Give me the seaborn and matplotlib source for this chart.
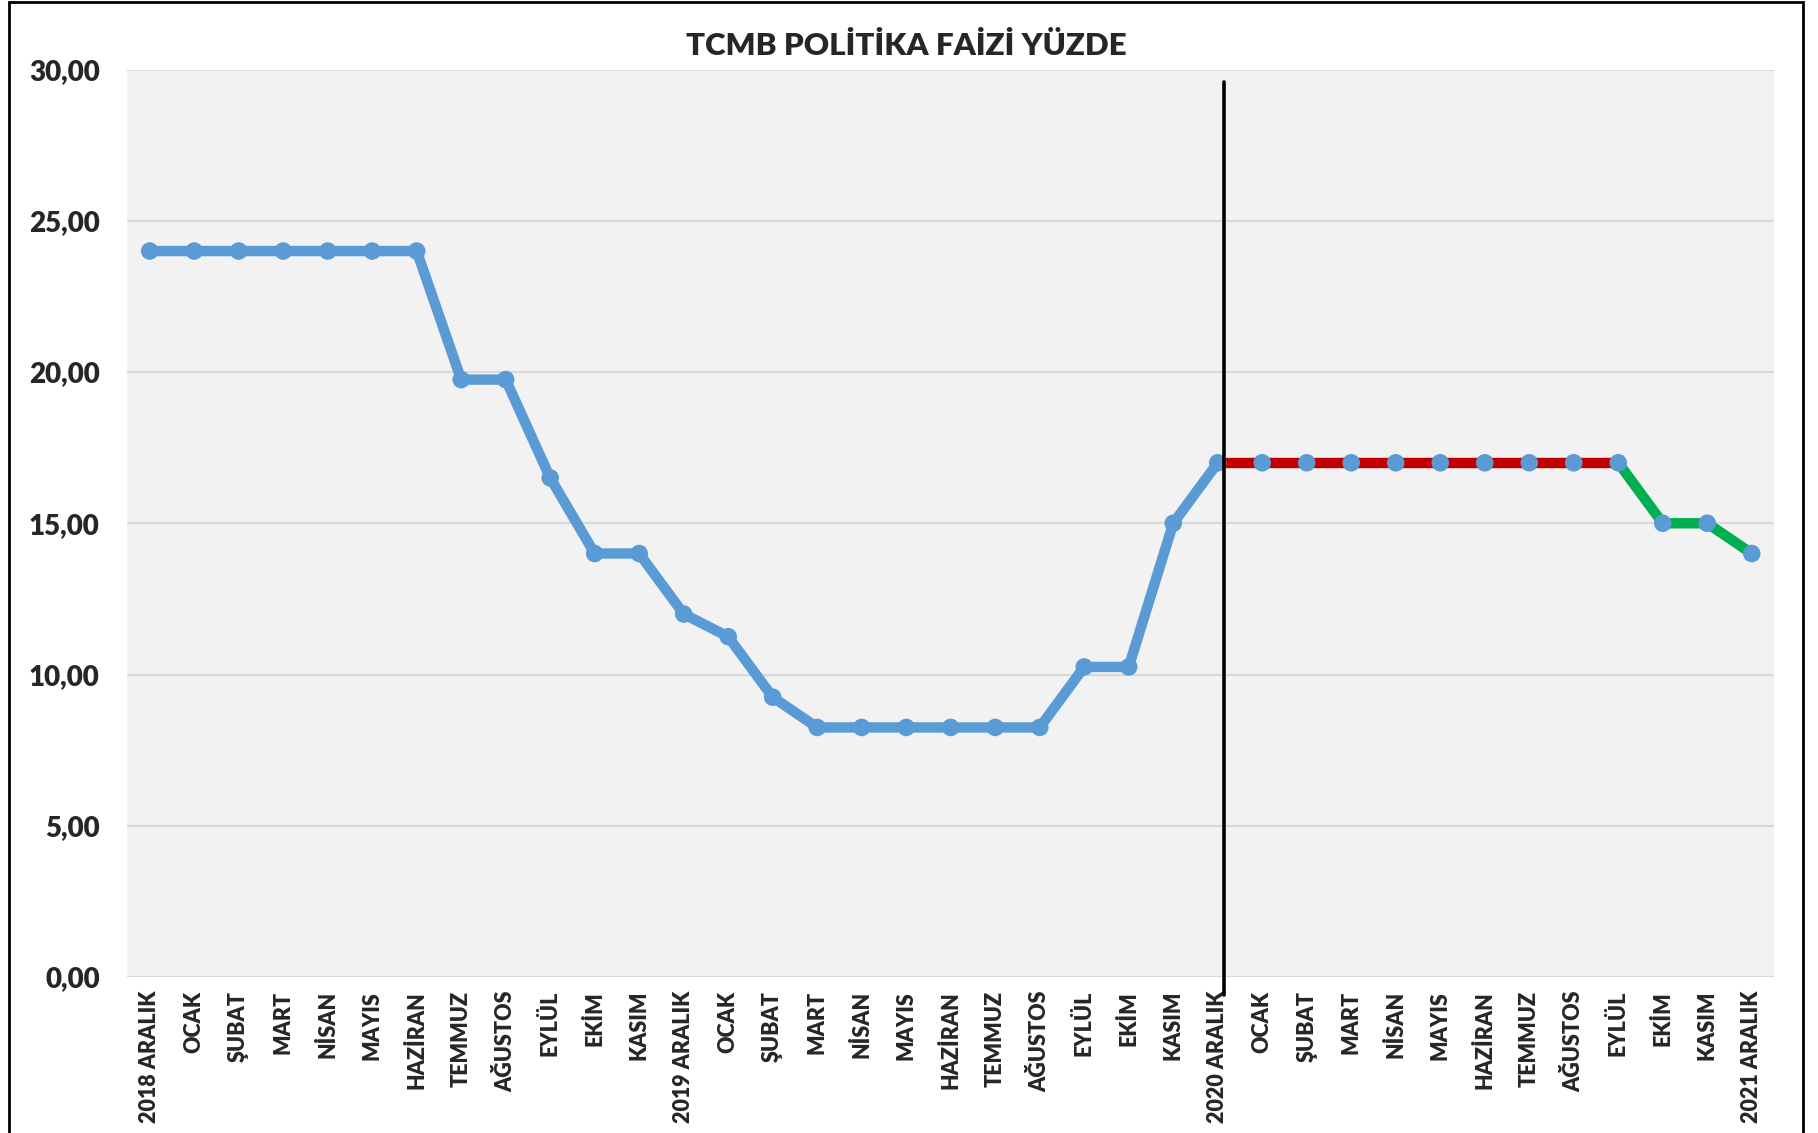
import matplotlib
matplotlib.use("Agg")
import matplotlib.pyplot as plt
import seaborn as sns
import pandas as pd
from matplotlib.patches import Rectangle
from matplotlib.ticker import FuncFormatter

# aylar (x ekseni) ve TCMB politika faizi (%)
aylar = ["2018 ARALIK", "OCAK", "ŞUBAT", "MART", "NİSAN", "MAYIS", "HAZİRAN",
         "TEMMUZ", "AĞUSTOS", "EYLÜL", "EKİM", "KASIM",
         "2019 ARALIK", "OCAK", "ŞUBAT", "MART", "NİSAN", "MAYIS", "HAZİRAN",
         "TEMMUZ", "AĞUSTOS", "EYLÜL", "EKİM", "KASIM",
         "2020 ARALIK", "OCAK", "ŞUBAT", "MART", "NİSAN", "MAYIS", "HAZİRAN",
         "TEMMUZ", "AĞUSTOS", "EYLÜL", "EKİM", "KASIM",
         "2021 ARALIK"]
faiz = [24, 24, 24, 24, 24, 24, 24, 19.75, 19.75, 16.5, 14, 14,
        12, 11.25, 9.25, 8.25, 8.25, 8.25, 8.25, 8.25, 8.25, 10.25, 10.25, 15,
        17, 17, 17, 17, 17, 17, 17, 17, 17, 17, 15, 15, 14]

# donem sinirlari: mavi -> kirmizi (2020 ARALIK), kirmizi -> yesil (EYLUL)
kirmizi_bas = 24
yesil_bas = 33

df = pd.DataFrame({"idx": range(len(faiz)), "faiz": faiz})

sns.set_style("white")
plt.rcParams["font.family"] = ["Lato", "DejaVu Sans"]

MAVI = "#5B9BD5"
KIRMIZI = "#C00000"
YESIL = "#00B050"
AGIRLIK = "heavy"

fig = plt.figure(figsize=(18.18, 11.33), dpi=100)
ax = fig.add_axes([0.0701, 0.1377, 0.9057, 0.8009])
ax.set_facecolor("#F2F2F2")

lw = 7.5
sns.lineplot(data=df.iloc[:kirmizi_bas + 1], x="idx", y="faiz", color=MAVI,
             linewidth=lw, ax=ax, zorder=3, solid_capstyle="round")
sns.lineplot(data=df.iloc[kirmizi_bas:yesil_bas + 1], x="idx", y="faiz",
             color=KIRMIZI, linewidth=lw, ax=ax, zorder=3)
sns.lineplot(data=df.iloc[yesil_bas:], x="idx", y="faiz", color=YESIL,
             linewidth=lw, ax=ax, zorder=3, solid_capstyle="round")
sns.scatterplot(data=df, x="idx", y="faiz", color=MAVI, s=160,
                edgecolor="none", ax=ax, zorder=4)

# 2020 ARALIK ayraci
ax.plot([kirmizi_bas + 0.15, kirmizi_bas + 0.15], [29.6, -0.6], color="black",
        linewidth=2.6, clip_on=False, zorder=5)

ax.set_xlim(-0.5, len(faiz) - 0.5)
ax.set_ylim(0, 30)
ax.set_yticks(range(0, 31, 5))
ax.yaxis.set_major_formatter(FuncFormatter(lambda v, p: f"{v:.2f}".replace(".", ",")))
ax.set_xticks(range(len(aylar)))
ax.set_xticklabels(aylar, rotation=90, fontsize=15.5, fontweight=AGIRLIK,
                   va="top", ha="center")
for t in ax.get_yticklabels():
    t.set_fontsize(20)
    t.set_fontweight(AGIRLIK)
ax.tick_params(axis="x", length=0, pad=10)
ax.tick_params(axis="y", length=0, pad=20)
ax.grid(axis="y", color="#D9D9D9", linewidth=1.6)
ax.set_axisbelow(True)
ax.set_xlabel("")
ax.set_ylabel("")
for s in ax.spines.values():
    s.set_visible(False)

fig.text(0.4985, 1 - 46 / 1133, "TCMB POLİTİKA FAİZİ YÜZDE", ha="center",
         va="center", fontsize=22.5, fontweight=AGIRLIK)

# dis cerceve
fig.patches.append(Rectangle((9 / 1818, -0.02), (1803 - 9) / 1818, 1.02 - 2 / 1133,
                             transform=fig.transFigure, fill=False,
                             edgecolor="black", linewidth=2))

fig.savefig("out.png", dpi=100)
